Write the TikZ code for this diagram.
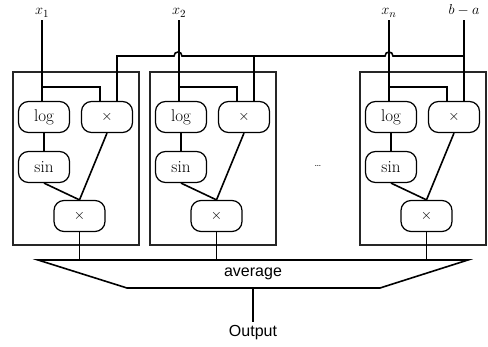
\documentclass[tikz,border=0pt]{standalone}
\usepackage{amsmath}
\usepackage{fontspec}
\usepackage{xcolor}
\usepackage{tikz}
\usetikzlibrary{positioning}
\newfontfamily\avgsans{Liberation Sans}
\definecolor{wireblack}{HTML}{000000}
\definecolor{framegray}{HTML}{262626}

\tikzset{
  opnode/.style={draw=wireblack, rounded corners=10pt, line width=1.2pt, minimum width=51pt, minimum height=31pt, inner sep=0pt, font=\fontsize{17}{20}\selectfont},
  mulnode/.style={opnode, font=\fontsize{15}{18}\selectfont},
  wire/.style={wireblack, line width=1.6pt},
  frame/.style={draw=framegray, line width=1.2pt},
  inlabel/.style={anchor=base, inner sep=0pt, text height=10pt, text depth=5pt, font=\fontsize{15}{18}\selectfont},
  sanslabel/.style={font=\avgsans\fontsize{16}{19}\selectfont}
}

\begin{document}
\begin{tikzpicture}[x=1pt,y=-1pt]
      \useasboundingbox (0,0) rectangle (488,347);
      % averaging stage
      \coordinate (avgtop) at (253,260);
      \coordinate (avgbot) at (253,288);
      \draw[wire] (38,260) -- (468,260) -- (380,288) -- (127,288) -- cycle;
      \node[sanslabel] (avg) at (253,274) {average};
      \node[sanslabel] (out) at (253,333) {Output};
      \draw[wire] (avgbot) -- (out.north);
      % one block per input
      \foreach \k/\L/\lab in {1/13/x_1,2/150/x_2,3/360/x_n} {
        \draw[frame] (\L,72) rectangle ++(126,173);
        \node[opnode] (log\k) at (\L+31,117) {log};
        \node[mulnode] (mul\k) at (\L+94,117) {$\times$};
        \node[opnode] (sin\k) at (\L+31,167) {sin};
        \node[mulnode] (prod\k) at (\L+66.5,216) {$\times$};
        \node[inlabel] (in\k) at (\L+29,15) {$\lab$};
        \coordinate (br\k) at (\L+29,87);
        \draw[wire] (in\k.south) -- (in\k.south |- log\k.north);
        \draw[wire] (br\k) -| ([xshift=-7pt]mul\k.north);
        \draw[wire] (log\k) -- (sin\k);
        \draw[wire] (sin\k.south) -- (prod\k.north);
        \draw[wire] (mul\k.south) -- (prod\k.north);
        \draw[wire] (prod\k.south) -- (prod\k.south |- avgtop);
      }
      \node[inlabel] (inba) at (464,15) {$b-a$};
      \draw[wire] (inba.south) -- (inba.south |- mul3.north);
      % shared bus with hops over the inputs
      \draw[wire] (117,56) -- (174,56) .. controls (174,50.7) and (182,50.7) .. (182,56)
        -- (385,56) .. controls (385,50.7) and (393,50.7) .. (393,56) -- (464,56);
      \foreach \k in {1,2}
        \draw[wire] ([xshift=10pt]mul\k.north) -- ++(0,-46);
      \node[font=\fontsize{11}{13}\selectfont] (dots) at (318,166) {\ldots};
    \end{tikzpicture}
\end{document}
